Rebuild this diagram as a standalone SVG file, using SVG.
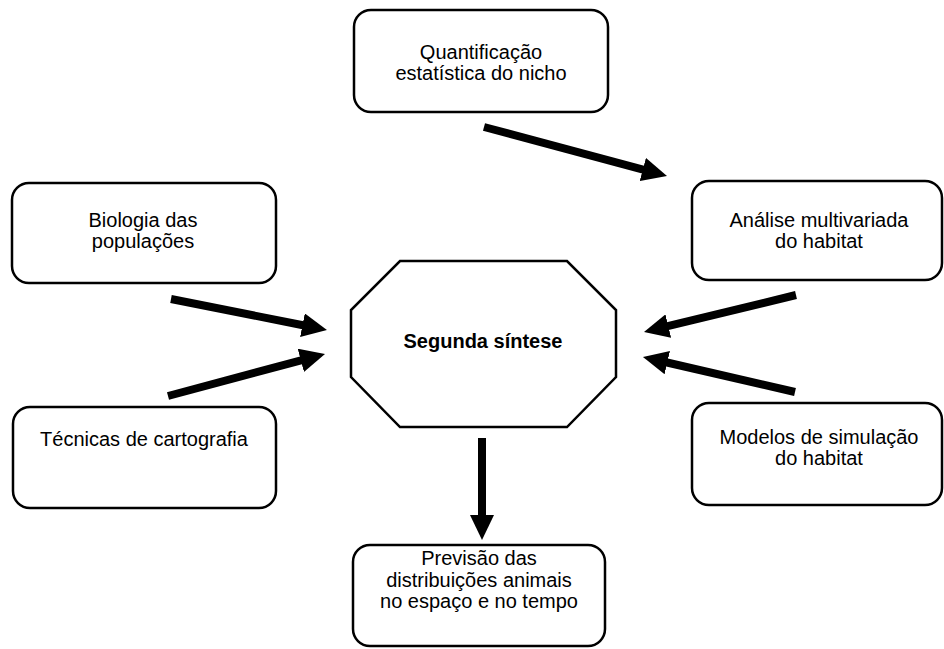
<svg xmlns="http://www.w3.org/2000/svg" width="944" height="649" viewBox="0 0 944 649">
<style>
.box{fill:#fff;stroke:#000;stroke-width:2.5}
.t{font-family:"Liberation Sans",Arial,sans-serif;font-size:20px;fill:#000;text-anchor:middle}
.b{font-weight:bold}
.arr{stroke:#000;stroke-width:8;fill:none;marker-end:url(#head)}
</style>
<defs>
<marker id="head" viewBox="0 0 25 24" refX="7" refY="12" markerWidth="25" markerHeight="24" markerUnits="userSpaceOnUse" orient="auto">
<path d="M0,0 L25,12 L0,24 z" fill="#000"/>
</marker>
</defs>
<rect width="944" height="649" fill="#fff"/>
<g id="quantificacao">
<rect class="box" x="354" y="10" width="254" height="102" rx="17"/>
<text class="t" x="481" y="59">Quantificação</text>
<text class="t" x="481" y="80">estatística do nicho</text>
</g>
<g id="biologia">
<rect class="box" x="12" y="183" width="264" height="100" rx="17"/>
<text class="t" x="143" y="227">Biologia das</text>
<text class="t" x="143" y="248">populações</text>
</g>
<g id="tecnicas">
<rect class="box" x="13" y="407" width="263" height="101" rx="17"/>
<text class="t" x="144" y="446">Técnicas de cartografia</text>
</g>
<g id="analise">
<rect class="box" x="692" y="181" width="250" height="99" rx="17"/>
<text class="t" x="819" y="227">Análise multivariada</text>
<text class="t" x="819" y="248">do habitat</text>
</g>
<g id="modelos">
<rect class="box" x="692" y="403" width="250" height="102" rx="17"/>
<text class="t" x="819" y="444">Modelos de simulação</text>
<text class="t" x="819" y="465">do habitat</text>
</g>
<g id="sintese">
<polygon class="box" points="400,261 567,261 616,310 616,377 567,427 400,427 351,377 351,310"/>
<text class="t b" x="483" y="348">Segunda síntese</text>
</g>
<g id="previsao">
<rect class="box" x="353" y="545" width="252" height="101" rx="17"/>
<text class="t" x="479" y="565">Previsão das</text>
<text class="t" x="479" y="587">distribuições animais</text>
<text class="t" x="479" y="608">no espaço e no tempo</text>
</g>
<g id="connectors">
<line class="arr" x1="484" y1="127" x2="649.6" y2="171.3"/>
<line class="arr" x1="171" y1="299" x2="309.3" y2="326.5"/>
<line class="arr" x1="168" y1="396" x2="307.6" y2="358.6"/>
<line class="arr" x1="796" y1="295" x2="661.5" y2="327.7"/>
<line class="arr" x1="795" y1="392" x2="660.5" y2="361"/>
<line class="arr" x1="482" y1="438" x2="482" y2="522"/>
</g>
</svg>
